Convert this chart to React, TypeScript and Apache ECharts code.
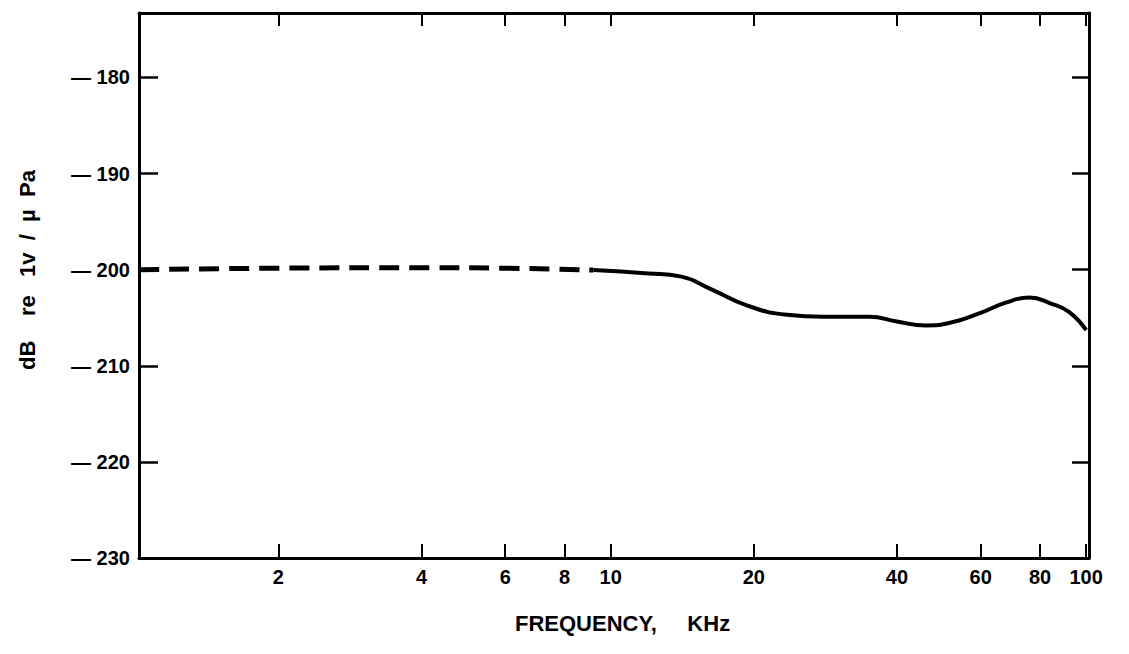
import React, { useEffect, useRef } from "react";
import * as echarts from "echarts";

// Frequency (kHz) tick values
const tickFreqs = [2, 4, 6, 8, 10, 20, 40, 60, 80, 100];
// Y tick values (dB re 1V/µPa)
const yTicks = [-230, -220, -210, -200, -190, -180];

// Dashed (extrapolated) part of the response
const dashedFreq = [1.02, 2, 4, 6, 9.2];
const dashedDb = [-200.0, -199.85, -199.8, -199.85, -200.05];

// Solid (measured) part of the response
const solidFreq = [9.2, 12, 14, 16.2, 19.4, 23.5, 28, 35, 40, 46, 52, 60, 68, 76, 84, 92, 100];
const solidDb = [-200.05, -200.4, -200.7, -202.0, -203.75, -204.7, -204.9, -204.9, -205.4, -205.8, -205.5, -204.5, -203.4, -202.9, -203.5, -204.4, -206.3];

const X_MIN = 0.008;
const X_MAX = 2.006;
const Y_MIN = -230;
const Y_MAX = -173.3;

const FONT = "'Liberation Sans', Arial, sans-serif";

export default function App() {
  const ref = useRef<HTMLDivElement>(null);
  useEffect(() => {
    if (!ref.current) return;
    const chart = echarts.init(ref.current, null, { renderer: "svg" });
    const tickLogs = tickFreqs.map((f) => Math.log10(f));
    const axisLine = { show: true, lineStyle: { color: "#000", width: 3 } };
    const labelStyle = { color: "#000", fontFamily: FONT, fontSize: 20, fontWeight: "bold" as const };
    chart.setOption({
      animation: false,
      backgroundColor: "#fff",
      grid: { left: 139, right: 40, top: 13, bottom: 96 },
      xAxis: [
        {
          type: "value",
          min: X_MIN,
          max: X_MAX,
          position: "bottom",
          axisLine,
          splitLine: { show: false },
          axisTick: { show: true, inside: true, length: 14, customValues: tickLogs, lineStyle: { color: "#000", width: 2 } },
          axisLabel: {
            ...labelStyle,
            margin: 9,
            customValues: tickLogs,
            formatter: (v: number) => String(Math.round(Math.pow(10, v))),
          },
        },
        {
          type: "value",
          min: X_MIN,
          max: X_MAX,
          position: "top",
          axisLine,
          splitLine: { show: false },
          axisTick: { show: true, inside: true, length: 13, customValues: tickLogs, lineStyle: { color: "#000", width: 2 } },
          axisLabel: { show: false },
        },
      ],
      yAxis: [
        {
          type: "value",
          min: Y_MIN,
          max: Y_MAX,
          position: "left",
          axisLine,
          splitLine: { show: false },
          axisTick: { show: true, inside: true, length: 19, customValues: yTicks, lineStyle: { color: "#000", width: 2.5 } },
          axisLabel: {
            ...labelStyle,
            margin: 9,
            customValues: yTicks,
            formatter: (v: number) => "\u2014 " + Math.abs(v),
          },
        },
        {
          type: "value",
          min: Y_MIN,
          max: Y_MAX,
          position: "right",
          axisLine,
          splitLine: { show: false },
          axisTick: { show: true, inside: true, length: 17, customValues: yTicks, lineStyle: { color: "#000", width: 2.5 } },
          axisLabel: { show: false },
        },
      ],
      series: [
        {
          type: "line",
          xAxisIndex: 0,
          yAxisIndex: 0,
          data: dashedFreq.map((f, i) => [Math.log10(f), dashedDb[i]]),
          showSymbol: false,
          smooth: 0.5,
          lineStyle: { color: "#000", width: 5, type: [20, 10] },
        },
        {
          type: "line",
          xAxisIndex: 0,
          yAxisIndex: 0,
          data: solidFreq.map((f, i) => [Math.log10(f), solidDb[i]]),
          showSymbol: false,
          smooth: 0.5,
          lineStyle: { color: "#000", width: 4 },
        },
      ],
      graphic: [
        {
          type: "text",
          left: 515,
          top: 612,
          style: { text: "FREQUENCY,     KHz", fill: "#000", font: `bold 22px ${FONT}` },
        },
        {
          type: "text",
          x: 27,
          y: 270,
          rotation: Math.PI / 2,
          style: {
            text: "dB    re   1v  /  \u00b5  Pa",
            fill: "#000",
            font: `bold 22px ${FONT}`,
            align: "center",
            verticalAlign: "middle",
          },
        },
      ],
    });
    return () => chart.dispose();
  }, []);
  return <div ref={ref} style={{ position: "absolute", left: 0, top: 0, width: 1129, height: 654 }} />;
}
